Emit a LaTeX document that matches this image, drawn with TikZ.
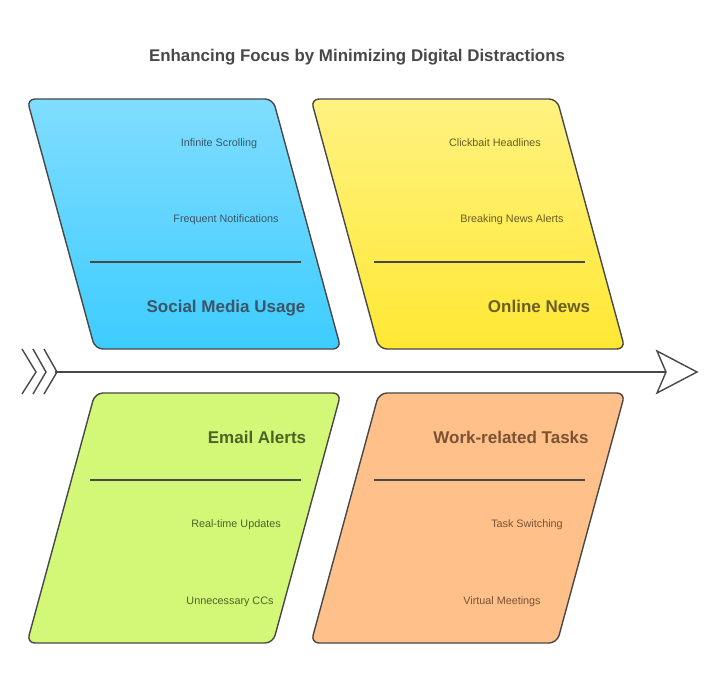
\documentclass[tikz,border=0pt]{standalone}
\usepackage{fontspec}
\setmainfont{Liberation Sans}
\usetikzlibrary{calc}
\definecolor{strokec}{HTML}{484848}
\definecolor{titlec}{HTML}{484848}
\definecolor{blueT}{HTML}{80DDFF}
\definecolor{blueB}{HTML}{3DCCFF}
\definecolor{yelT}{HTML}{FFF281}
\definecolor{yelB}{HTML}{FFE833}
\definecolor{grnT}{HTML}{D3F878}
\definecolor{grnB}{HTML}{D3F878}
\definecolor{orgT}{HTML}{FFC08A}
\definecolor{orgB}{HTML}{FFC08A}
\definecolor{blueTx}{HTML}{3B5666}
\definecolor{yelTx}{HTML}{6A5E22}
\definecolor{grnTx}{HTML}{4D6428}
\definecolor{orgTx}{HTML}{7A5334}
\tikzset{
  card/.style={draw=strokec, line width=1.4pt, rounded corners=8pt, line join=round},
  sep/.style={draw=strokec, line width=1.4pt},
  item/.style={font=\fontsize{10.8}{13}\selectfont, inner sep=0pt, anchor=base},
  head/.style={font=\fontsize{17}{20}\selectfont\bfseries, inner sep=0pt, anchor=base},
  ttl/.style={font=\fontsize{16.9}{20}\selectfont\bfseries, text=titlec, inner sep=0pt, anchor=base},
  spine/.style={draw=strokec, line width=1.4pt, line join=miter},
}
\begin{document}
\begin{tikzpicture}[x=1pt,y=-1pt]
\useasboundingbox[fill=white] (0,0) rectangle (720,689);
% title
\node[ttl] (title) at (357,61) {Enhancing Focus by Minimizing Digital Distractions};
% cards
\path[card, top color=blueT, bottom color=blueB] (27,99) -- (273,99) -- (341,349) -- (95,349) -- cycle;
\path[card, top color=yelT, bottom color=yelB] (311,99) -- (557,99) -- (625,349) -- (379,349) -- cycle;
\path[card, top color=grnT, bottom color=grnB] (95,393) -- (341,393) -- (273,643) -- (27,643) -- cycle;
\path[card, top color=orgT, bottom color=orgB] (379,393) -- (625,393) -- (557,643) -- (311,643) -- cycle;
% separators
\coordinate (s1a) at (90,262); \coordinate (s1b) at (301,262);
\coordinate (s2a) at (374,262); \coordinate (s2b) at (585,262);
\coordinate (s3a) at (90,480); \coordinate (s3b) at (301,480);
\coordinate (s4a) at (374,480); \coordinate (s4b) at (585,480);
\draw[sep] (s1a) -- (s1b);
\draw[sep] (s2a) -- (s2b);
\draw[sep] (s3a) -- (s3b);
\draw[sep] (s4a) -- (s4b);
% texts
\node[item, text=blueTx] (b1) at (219,146) {Infinite Scrolling};
\node[item, text=blueTx] (b2) at (226,222) {Frequent Notifications};
\node[head, text=blueTx] (bh) at (226,312) {Social Media Usage};
\node[item, text=yelTx] (y1) at (495,146) {Clickbait Headlines};
\node[item, text=yelTx] (y2) at (512,222) {Breaking News Alerts};
\node[head, text=yelTx] (yh) at (539,312) {Online News};
\node[head, text=grnTx] (gh) at (257,443) {Email Alerts};
\node[item, text=grnTx] (g1) at (236,527) {Real-time Updates};
\node[item, text=grnTx] (g2) at (230,604) {Unnecessary CCs};
\node[head, text=orgTx] (oh) at (511,443) {Work-related Tasks};
\node[item, text=orgTx] (o1) at (527,527) {Task Switching};
\node[item, text=orgTx] (o2) at (502,604) {Virtual Meetings};
% spine
\coordinate (tail) at (55,372);
\coordinate (notch) at (666,372);
\coordinate (tip) at (697,372);
\coordinate (hu) at (657,351);
\coordinate (hd) at (657,393);
\draw[spine] (tail) -- (notch);
\draw[spine, fill=white] (hu) -- (tip) -- (hd) -- (notch) -- cycle;
\foreach \x/\t in {22/36,33/46,44/57}{
  \coordinate (fu\x) at (\x,349);
  \coordinate (fm\x) at (\t,372);
  \coordinate (fd\x) at (\x,394);
  \draw[spine] (fu\x) -- (fm\x) -- (fd\x);
}
\end{tikzpicture}
\end{document}
